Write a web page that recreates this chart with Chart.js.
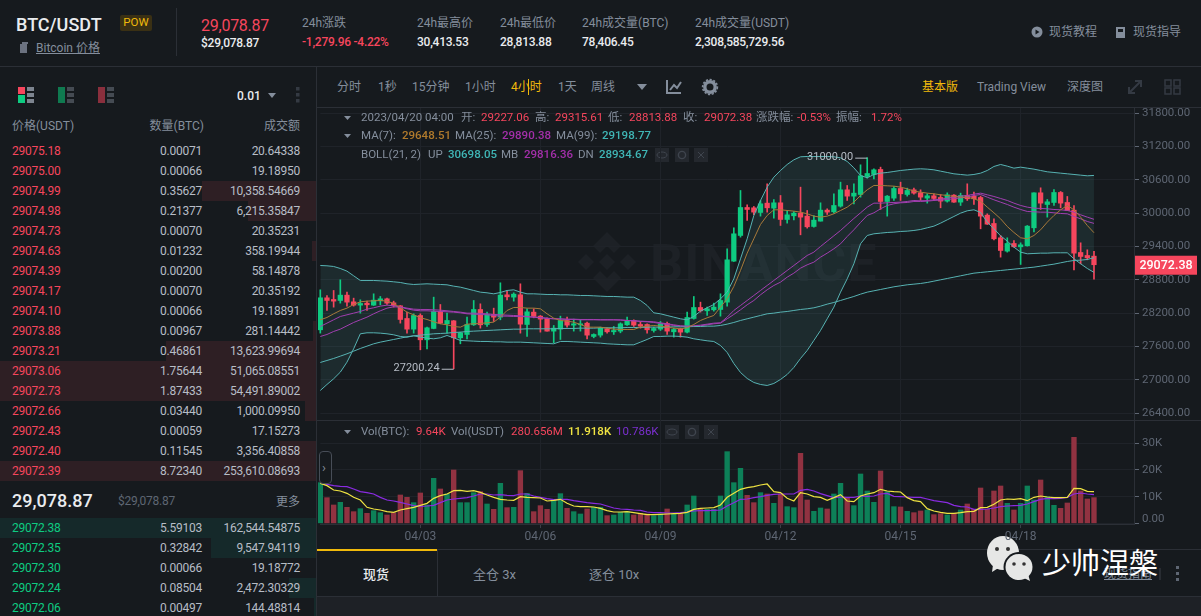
<!DOCTYPE html>
<html>
<head>
<meta charset="utf-8">
<script src="https://cdn.jsdelivr.net/npm/chart.js@4/dist/chart.umd.min.js"></script>
<style>
html, body { margin: 0; padding: 0; background: #161a1e; }
body { width: 1201px; height: 616px; overflow: hidden; position: relative; font-family: Roboto, "Noto Sans CJK SC", sans-serif; }
#page > div.t { position: absolute; white-space: nowrap; transform: translateY(-50%); line-height: 1; }
#page > div.r { transform: translate(-100%, -50%); }
.box { position: absolute; }
canvas { position: absolute; display: block; }
svg { position: absolute; overflow: visible; }
</style>
</head>
<body>
<div id="page"></div>
<canvas id="priceChart" width="883" height="312" style="left:318px;top:108px"></canvas>
<canvas id="volChart" width="883" height="120" style="left:318px;top:420px"></canvas>
<script>
// 4h candles, 03/31 20:00 to 04/20 04:00
const categories = [
  "03/31 20:00",
  "04/01 00:00", "04/01 04:00", "04/01 08:00", "04/01 12:00", "04/01 16:00", "04/01 20:00",
  "04/02 00:00", "04/02 04:00", "04/02 08:00", "04/02 12:00", "04/02 16:00", "04/02 20:00",
  "04/03 00:00", "04/03 04:00", "04/03 08:00", "04/03 12:00", "04/03 16:00", "04/03 20:00",
  "04/04 00:00", "04/04 04:00", "04/04 08:00", "04/04 12:00", "04/04 16:00", "04/04 20:00",
  "04/05 00:00", "04/05 04:00", "04/05 08:00", "04/05 12:00", "04/05 16:00", "04/05 20:00",
  "04/06 00:00", "04/06 04:00", "04/06 08:00", "04/06 12:00", "04/06 16:00", "04/06 20:00",
  "04/07 00:00", "04/07 04:00", "04/07 08:00", "04/07 12:00", "04/07 16:00", "04/07 20:00",
  "04/08 00:00", "04/08 04:00", "04/08 08:00", "04/08 12:00", "04/08 16:00", "04/08 20:00",
  "04/09 00:00", "04/09 04:00", "04/09 08:00", "04/09 12:00", "04/09 16:00", "04/09 20:00",
  "04/10 00:00", "04/10 04:00", "04/10 08:00", "04/10 12:00", "04/10 16:00", "04/10 20:00",
  "04/11 00:00", "04/11 04:00", "04/11 08:00", "04/11 12:00", "04/11 16:00", "04/11 20:00",
  "04/12 00:00", "04/12 04:00", "04/12 08:00", "04/12 12:00", "04/12 16:00", "04/12 20:00",
  "04/13 00:00", "04/13 04:00", "04/13 08:00", "04/13 12:00", "04/13 16:00", "04/13 20:00",
  "04/14 00:00", "04/14 04:00", "04/14 08:00", "04/14 12:00", "04/14 16:00", "04/14 20:00",
  "04/15 00:00", "04/15 04:00", "04/15 08:00", "04/15 12:00", "04/15 16:00", "04/15 20:00",
  "04/16 00:00", "04/16 04:00", "04/16 08:00", "04/16 12:00", "04/16 16:00", "04/16 20:00",
  "04/17 00:00", "04/17 04:00", "04/17 08:00", "04/17 12:00", "04/17 16:00", "04/17 20:00",
  "04/18 00:00", "04/18 04:00", "04/18 08:00", "04/18 12:00", "04/18 16:00", "04/18 20:00",
  "04/19 00:00", "04/19 04:00", "04/19 08:00", "04/19 12:00", "04/19 16:00", "04/19 20:00",
  "04/20 00:00", "04/20 04:00"
];
const emptySlots = ["", "", "", "", "", ""];   // room right of the last candle
const xTickLabels = ["04/03", "04/06", "04/09", "04/12", "04/15", "04/18"];
const priceTicks = [31800, 31200, 30600, 30000, 29400, 28800, 28200, 27600, 27000, 26400];
const volTicks = [0, 10, 20, 30];

const opens = [
  27901, 28477, 28447, 28429, 28525, 28405, 28345, 28381, 28345, 28423,
  28459, 28387, 28333, 28105, 27913, 28159, 27721, 27925, 28231, 28009,
  28063, 27757, 27817, 27991, 28267, 27997, 28177, 28129, 28531, 28489,
  28531, 27997, 28219, 28147, 28105, 27877, 27913, 28069, 27985, 27991,
  28021, 27781, 27805, 27919, 27865, 27877, 27991, 28069, 27997, 27997,
  27889, 27913, 28015, 27865, 27919, 27859, 28105, 28303, 28243, 28261,
  28267, 28399, 29137, 29599, 30103, 30097, 30013, 30181, 30091, 30187,
  29887, 29953, 30001, 29947, 29761, 29857, 30055, 30025, 30127, 30421,
  30307, 30337, 30661, 30697, 30787, 30211, 30271, 30445, 30337, 30421,
  30367, 30271, 30313, 30283, 30217, 30325, 30199, 30319, 30307, 30283,
  29965, 29815, 29557, 29317, 29455, 29395, 29413, 29737, 30367, 30157,
  30193, 30373, 30193, 30055, 29293, 29239, 29227.06
];
const highs = [
  28621, 28519, 28609, 28801, 28579, 28471, 28441, 28417, 28549, 28501,
  28471, 28417, 28339, 28219, 28189, 28189, 27949, 28489, 28357, 28201,
  28069, 27859, 28129, 28429, 28369, 28219, 28291, 28747, 28609, 28567,
  28729, 28279, 28279, 28159, 28117, 27979, 28147, 28129, 28093, 28087,
  28039, 27829, 27949, 27937, 27961, 28027, 28129, 28081, 28045, 28009,
  27949, 28051, 28039, 27931, 27931, 28219, 28501, 28399, 28309, 28381,
  28549, 29359, 29737, 30409, 30151, 30121, 30229, 30529, 30247, 30319,
  30049, 30031, 30469, 30049, 29959, 30187, 30079, 30349, 30559, 30499,
  30529, 30871, 31000, 30799, 30829, 30319, 30481, 30559, 30451, 30451,
  30421, 30349, 30349, 30337, 30367, 30337, 30361, 30529, 30379, 30307,
  29989, 29899, 29599, 29557, 29509, 29467, 29779, 30367, 30457, 30247,
  30427, 30391, 30301, 30139, 29467, 29341, 29315.61
];
const lows = [
  27841, 28249, 28309, 28381, 28327, 28327, 28201, 28249, 28339, 28351,
  28357, 28309, 28021, 27841, 27841, 27541, 27559, 27919, 28009, 27841,
  27200.24, 27649, 27739, 27979, 27931, 27961, 28051, 28081, 28441, 28417,
  27841, 27781, 28117, 27859, 27877, 27667, 27727, 27949, 27877, 27877,
  27739, 27757, 27769, 27841, 27817, 27847, 27979, 27961, 27931, 27841,
  27859, 27889, 27817, 27769, 27769, 27847, 28093, 28219, 28159, 28237,
  28147, 28327, 29131, 29569, 29869, 29971, 29947, 30019, 29911, 29779,
  29821, 29881, 29611, 29731, 29749, 29857, 29977, 30001, 30109, 30229,
  30169, 30289, 30631, 30619, 30067, 29947, 30229, 30229, 30307, 30343,
  30229, 30181, 30229, 30097, 30199, 30193, 30139, 30229, 30157, 29719,
  29797, 29521, 29209, 29299, 29389, 29077, 29407, 29665, 30067, 29929,
  30139, 30097, 30049, 28981, 29089, 29161, 28813.88
];
const closes = [
  28477, 28429, 28417, 28525, 28399, 28345, 28375, 28351, 28435, 28459,
  28381, 28339, 28087, 27913, 28159, 27721, 27937, 28231, 28021, 28069,
  27757, 27847, 27997, 28267, 27991, 28177, 28129, 28525, 28495, 28543,
  28003, 28225, 28141, 28093, 27877, 27931, 28069, 27985, 28009, 28009,
  27805, 27817, 27931, 27865, 27889, 28009, 28069, 27985, 27967, 27901,
  27925, 28009, 27877, 27907, 27859, 28123, 28303, 28243, 28279, 28309,
  28429, 29161, 29629, 30103, 30067, 30019, 30169, 30097, 30187, 29887,
  29971, 30001, 29929, 29755, 29875, 30055, 30019, 30139, 30421, 30307,
  30361, 30673, 30715, 30781, 30211, 30307, 30445, 30349, 30409, 30361,
  30289, 30313, 30265, 30217, 30331, 30199, 30319, 30259, 30259, 29947,
  29803, 29539, 29329, 29455, 29395, 29431, 29767, 30367, 30181, 30205,
  30373, 30181, 30049, 29281, 29221, 29197, 29072.38
];
const ma7 = [
  28081, 28123, 28189, 28249, 28291, 28357, 28405, 28417, 28423, 28429,
  28417, 28375, 28297, 28219, 28171, 28117, 28087, 28045, 28009, 27991,
  27961, 27949, 28003, 28009, 28015, 28027, 28039, 28129, 28249, 28303,
  28303, 28291, 28291, 28279, 28189, 28111, 28069, 28057, 28039, 27997,
  27949, 27949, 27949, 27931, 27913, 27907, 27907, 27907, 27949, 27967,
  27979, 27967, 27949, 27931, 27919, 27937, 27997, 28069, 28117, 28159,
  28309, 28459, 28681, 28969, 29281, 29539, 29797, 29959, 30061, 30061,
  30049, 30037, 30019, 29989, 29947, 29929, 29947, 29989, 30049, 30109,
  30199, 30319, 30421, 30499, 30499, 30493, 30487, 30469, 30439, 30397,
  30379, 30361, 30349, 30331, 30319, 30301, 30289, 30289, 30259, 30217,
  30109, 30007, 29899, 29761, 29653, 29557, 29539, 29599, 29701, 29839,
  29959, 30061, 30139, 30061, 29929, 29779, 29648.51
];
const ma25 = [
  27961, 28021, 28081, 28141, 28171, 28201, 28231, 28273, 28297, 28327,
  28345, 28333, 28315, 28291, 28273, 28267, 28267, 28261, 28255, 28243,
  28231, 28219, 28201, 28201, 28195, 28189, 28177, 28171, 28165, 28159,
  28153, 28141, 28129, 28123, 28111, 28099, 28099, 28093, 28093, 28087,
  28087, 28087, 28081, 28081, 28081, 28081, 28069, 28063, 28057, 28051,
  28045, 28027, 28009, 27991, 27973, 27967, 27973, 27985, 28003, 28021,
  28027, 28129, 28249, 28339, 28429, 28519, 28609, 28699, 28789, 28879,
  28969, 29059, 29149, 29239, 29299, 29401, 29497, 29593, 29689, 29797,
  29905, 30007, 30109, 30181, 30181, 30187, 30193, 30199, 30211, 30229,
  30223, 30229, 30241, 30253, 30271, 30289, 30307, 30319, 30343, 30361,
  30331, 30301, 30265, 30229, 30181, 30139, 30109, 30091, 30085, 30079,
  30067, 30061, 30049, 30019, 29971, 29929, 29890.38
];
const ma99 = [
  27313, 27349, 27385, 27427, 27469, 27517, 27565, 27607, 27649, 27679,
  27703, 27727, 27751, 27775, 27793, 27805, 27817, 27829, 27835, 27841,
  27853, 27859, 27871, 27877, 27883, 27889, 27895, 27901, 27907, 27913,
  27913, 27919, 27919, 27919, 27919, 27919, 27925, 27925, 27925, 27931,
  27931, 27931, 27937, 27937, 27937, 27937, 27943, 27943, 27943, 27949,
  27949, 27949, 27949, 27955, 27955, 27955, 27961, 27961, 27967, 27967,
  27979, 28003, 28033, 28069, 28099, 28129, 28159, 28189, 28201, 28219,
  28231, 28249, 28267, 28279, 28297, 28327, 28363, 28393, 28429, 28465,
  28501, 28543, 28579, 28603, 28627, 28651, 28675, 28693, 28711, 28723,
  28735, 28753, 28777, 28801, 28825, 28849, 28873, 28897, 28921, 28933,
  28945, 28957, 28969, 28981, 28993, 29005, 29017, 29029, 29047, 29065,
  29083, 29107, 29131, 29149, 29155, 29167, 29198.77
];
const bollUp = [
  29059, 29053, 29041, 29005, 28957, 28873, 28789, 28789, 28789, 28783,
  28777, 28765, 28753, 28729, 28717, 28723, 28729, 28723, 28717, 28711,
  28687, 28669, 28639, 28609, 28579, 28567, 28549, 28573, 28609, 28621,
  28579, 28549, 28549, 28543, 28537, 28537, 28531, 28531, 28525, 28519,
  28519, 28513, 28507, 28501, 28501, 28495, 28489, 28489, 28429, 28339,
  28207, 28189, 28159, 28129, 28099, 28081, 28141, 28237, 28297, 28357,
  28459, 28579, 28819, 29179, 29539, 29959, 30229, 30469, 30649, 30769,
  30877, 30961, 31015, 31021, 31021, 31021, 31021, 31015, 30997, 30931,
  30817, 30679, 30637, 30697, 30721, 30733, 30751, 30769, 30781, 30793,
  30799, 30793, 30781, 30757, 30733, 30709, 30697, 30685, 30697, 30721,
  30769, 30841, 30877, 30847, 30811, 30829, 30811, 30793, 30769, 30745,
  30733, 30721, 30709, 30697, 30685, 30673, 30680
];
const bollMb = [
  27781, 27817, 27871, 27913, 27973, 28033, 28081, 28129, 28189, 28243,
  28291, 28315, 28309, 28279, 28255, 28243, 28243, 28237, 28231, 28225,
  28219, 28207, 28189, 28183, 28177, 28171, 28159, 28147, 28147, 28141,
  28141, 28135, 28129, 28117, 28105, 28099, 28093, 28087, 28087, 28081,
  28081, 28081, 28081, 28081, 28081, 28075, 28069, 28063, 28051, 28045,
  28033, 28015, 27997, 27979, 27967, 27961, 27967, 27973, 27991, 28009,
  28021, 28099, 28177, 28261, 28351, 28429, 28531, 28621, 28699, 28759,
  28849, 28921, 29011, 29071, 29119, 29209, 29281, 29359, 29449, 29581,
  29701, 29833, 29959, 30007, 30079, 30139, 30169, 30187, 30193, 30211,
  30211, 30217, 30229, 30235, 30247, 30259, 30277, 30289, 30319, 30337,
  30289, 30241, 30199, 30157, 30109, 30067, 30031, 30025, 30019, 30019,
  30007, 29995, 29989, 29941, 29899, 29851, 29816.36
];
const bollDn = [
  26809, 26917, 27019, 27139, 27319, 27559, 27829, 27847, 27847, 27841,
  27829, 27811, 27781, 27769, 27793, 27769, 27751, 27739, 27757, 27799,
  27757, 27709, 27703, 27697, 27691, 27691, 27685, 27685, 27679, 27679,
  27679, 27673, 27667, 27661, 27655, 27649, 27691, 27691, 27685, 27679,
  27673, 27667, 27661, 27649, 27643, 27637, 27631, 27631, 27679, 27727,
  27781, 27781, 27787, 27787, 27781, 27769, 27739, 27721, 27703, 27691,
  27619, 27493, 27295, 27133, 27025, 26953, 26917, 26899, 26935, 27007,
  27097, 27223, 27385, 27529, 27709, 27889, 28099, 28309, 28579, 28819,
  29089, 29449, 29599, 29629, 29641, 29653, 29659, 29671, 29677, 29689,
  29707, 29737, 29767, 29821, 29881, 29941, 30001, 30043, 30061, 30013,
  29839, 29719, 29593, 29497, 29389, 29299, 29269, 29275, 29281, 29281,
  29287, 29287, 29287, 29179, 29089, 29005, 28934.67
];
// volume in thousands of BTC
const volumes = [
  15.25, 9.63, 6.88, 7.88, 6.0, 4.38, 5.5, 3.75, 4.75, 4.0,
  3.13, 4.0, 10.63, 9.75, 7.75, 11.38, 6.88, 16.88, 12.88, 11.0,
  20.0, 7.75, 7.75, 11.5, 11.88, 7.25, 5.25, 15.0, 5.88, 6.0,
  19.75, 11.25, 4.38, 6.63, 5.25, 8.75, 11.13, 5.63, 4.38, 3.5,
  5.38, 6.0, 6.0, 2.88, 3.13, 4.13, 4.38, 3.13, 3.75, 3.5,
  2.88, 3.5, 5.38, 3.5, 3.5, 6.88, 10.25, 5.25, 5.25, 5.25,
  10.25, 26.88, 15.25, 20.63, 10.5, 7.75, 11.5, 11.0, 7.5, 11.0,
  6.25, 5.88, 26.25, 8.75, 4.5, 5.75, 5.38, 11.0, 15.0, 9.75,
  6.63, 18.5, 12.13, 7.88, 19.63, 11.88, 6.25, 6.13, 4.5, 4.0,
  4.63, 5.0, 3.25, 3.63, 3.13, 3.75, 5.0, 7.25, 5.25, 13.25,
  5.25, 12.13, 14.0, 7.5, 5.0, 7.5, 14.0, 8.75, 16.25, 10.0,
  6.75, 5.63, 7.63, 32.25, 12.13, 9.13, 9.64
];
const volMa5 = [
  15.0, 14.13, 12.5, 12.13, 11.25, 9.75, 8.75, 6.0, 5.38, 5.0,
  4.38, 4.13, 5.0, 5.5, 6.0, 6.75, 7.5, 9.38, 10.38, 11.0,
  12.25, 12.38, 12.0, 12.25, 11.63, 10.63, 9.75, 9.0, 8.75, 8.63,
  10.0, 9.75, 9.63, 9.5, 8.38, 8.63, 9.0, 7.5, 6.5, 6.25,
  6.25, 6.13, 5.63, 4.75, 4.25, 4.25, 4.38, 4.0, 3.63, 3.25,
  3.25, 3.38, 3.5, 3.63, 3.75, 4.13, 5.25, 5.63, 5.75, 5.88,
  6.88, 9.75, 11.25, 12.75, 13.38, 13.75, 14.38, 14.75, 11.88, 11.5,
  9.38, 8.38, 11.5, 11.0, 10.0, 9.75, 8.63, 9.63, 10.75, 8.38,
  8.13, 10.25, 11.0, 11.5, 12.75, 12.13, 11.88, 11.75, 9.63, 8.5,
  8.13, 5.5, 4.63, 4.13, 3.75, 3.75, 4.0, 4.38, 4.5, 5.88,
  6.0, 7.13, 8.75, 9.13, 9.0, 9.25, 8.5, 9.75, 10.25, 9.88,
  9.63, 9.63, 9.75, 13.13, 13.0, 12.0, 11.92
];
const volMa10 = [
  15.25, 14.63, 14.13, 13.88, 13.75, 12.88, 11.88, 11.5, 11.0, 9.75,
  8.75, 8.38, 7.88, 7.25, 6.63, 6.38, 6.5, 6.75, 7.75, 8.75,
  9.13, 9.38, 9.63, 10.25, 11.0, 11.0, 10.63, 10.75, 10.5, 10.38,
  11.0, 11.0, 10.25, 9.75, 9.25, 8.88, 9.0, 9.0, 8.5, 8.13,
  7.75, 7.5, 7.25, 6.5, 5.75, 5.38, 5.25, 5.0, 4.88, 4.25,
  4.0, 4.0, 3.88, 3.88, 4.0, 4.25, 4.63, 4.75, 4.75, 4.88,
  5.0, 6.5, 7.75, 9.0, 9.13, 9.63, 10.0, 10.5, 10.88, 11.0,
  11.0, 11.0, 12.38, 12.75, 12.13, 11.13, 10.38, 9.63, 9.88, 9.75,
  9.75, 10.25, 10.13, 10.25, 11.0, 11.25, 10.13, 10.0, 9.88, 9.75,
  9.75, 9.13, 8.5, 8.13, 7.75, 6.75, 6.25, 6.13, 5.25, 5.25,
  5.38, 5.75, 6.25, 6.5, 6.63, 6.75, 7.25, 8.13, 9.0, 9.38,
  9.25, 9.38, 9.75, 11.0, 11.38, 11.0, 10.79
];

// order book
const askPrices = ["29075.18","29075.00","29074.99","29074.98","29074.73","29074.63","29074.39","29074.17","29074.10","29073.88","29073.21","29073.06","29072.73","29072.66","29072.43","29072.40","29072.39"];
const askAmounts = ["0.00071","0.00066","0.35627","0.21377","0.00070","0.01232","0.00200","0.00070","0.00066","0.00967","0.46861","1.75644","1.87433","0.03440","0.00059","0.11545","8.72340"];
const askTotals = ["20.64338","19.18950","10,358.54669","6,215.35847","20.35231","358.19944","58.14878","20.35192","19.18891","281.14442","13,623.99694","51,065.08551","54,491.89002","1,000.09950","17.15273","3,356.40858","253,610.08693"];
const askDepth = [0,0,114,68,0,4,0,0,0,3,150,316,316,11,0,37,316];
const bidPrices = ["29072.38","29072.35","29072.30","29072.24","29072.06"];
const bidAmounts = ["5.59103","0.32842","0.00066","0.08504","0.00497"];
const bidTotals = ["162,544.54875","9,547.94119","19.18772","2,472.30329","144.48814"];
const bidDepth = [316,105,0,27,2];

const UP = "#0ecb81", DOWN = "#f6465d", GREY = "#848e9c", DIM = "#5e6673", LINE = "#2b2f36", GRID = "#1f2329";
const NUM = "letter-spacing:-0.25px;";
const page = document.getElementById("page");

function put(x, y, str, color, size, extra, right) {
  const d = document.createElement("div");
  d.className = right ? "t r" : "t";
  d.style.cssText = "left:" + x + "px;top:" + y + "px;color:" + color + ";font-size:" + size + "px;" + (extra || "");
  d.innerHTML = str;
  page.appendChild(d);
  return d;
}
function box(x, y, w, h, color, extra) {
  const d = document.createElement("div");
  d.className = "box";
  d.style.cssText = "left:" + x + "px;top:" + y + "px;width:" + w + "px;height:" + h + "px;background:" + color + ";" + (extra || "");
  page.appendChild(d);
  return d;
}
function icon(inner) {
  const s = document.createElement("div");
  s.innerHTML = '<svg width="1201" height="616" style="left:0;top:0">' + inner + "</svg>";
  page.appendChild(s);
}

// frame
box(0, 66, 1201, 1, LINE);
box(316, 66, 1, 550, LINE);
box(317, 107, 884, 1, LINE);
box(317, 420, 884, 1, LINE);
box(317, 596, 884, 20, "#1e2126");
box(317, 596, 884, 1, LINE);
box(317, 549, 884, 1, LINE);
box(176, 8, 1, 48, LINE);

// header
put(16, 25, "BTC/USDT", "#eaecef", 18, "font-weight:500");
box(120, 15, 32, 16, "#3a3014", "border-radius:2px");
put(136, 23, "POW", "#f0b90b", 11.5, "transform:translate(-50%,-50%)");
put(36, 47.5, "Bitcoin 价格", GREY, 12, "text-decoration:underline");
icon('<rect x="20" y="44" width="7" height="9" fill="#6b7280"/><rect x="22" y="42" width="6" height="2" fill="#6b7280"/>');
put(201, 26, "29,078.87", DOWN, 16, NUM);
put(201, 43, "$29,078.87", "#eaecef", 12, "font-weight:500;" + NUM);
put(302, 23, "24h涨跌", GREY, 12);
put(302, 42, "-1,279.96 -4.22%", DOWN, 12, "font-weight:500;" + NUM);
put(417, 23, "24h最高价", GREY, 12);
put(417, 42, "30,413.53", "#eaecef", 12, "font-weight:500;" + NUM);
put(500, 23, "24h最低价", GREY, 12);
put(500, 42, "28,813.88", "#eaecef", 12, "font-weight:500;" + NUM);
put(582, 23, "24h成交量(BTC)", GREY, 12);
put(582, 42, "78,406.45", "#eaecef", 12, "font-weight:500;" + NUM);
put(695, 23, "24h成交量(USDT)", GREY, 12);
put(695, 42, "2,308,585,729.56", "#eaecef", 12, "font-weight:500;" + NUM);
icon('<circle cx="1037" cy="32" r="5.5" fill="#848e9c"/><path d="M1035.5 29.5 L1039.5 32 L1035.5 34.5 Z" fill="#161a1e"/>' +
  '<rect x="1116" y="27" width="9" height="11" fill="#848e9c"/><rect x="1118" y="29" width="5" height="3" fill="#161a1e"/>');
put(1049, 32, "现货教程", GREY, 12);
put(1133, 32, "现货指导", GREY, 12);

// toolbar
[[337, "分时"], [378, "1秒"], [412, "15分钟"], [465, "1小时"], [558, "1天"], [591, "周线"]].forEach(function (b) {
  put(b[0], 87, b[1], GREY, 12);
});
put(511, 87, "4小时", "#f0b90b", 12);
box(528, 79, 1, 16, "#f0b90b");
put(922, 87, "基本版", "#f0b90b", 12);
put(977, 87, "Trading View", GREY, 12);
put(1067, 87, "深度图", GREY, 12);
icon('<path d="M637 84 L647 84 L642 90 Z" fill="#848e9c"/>' +
  '<path d="M667 80 V93 H681 M670 90 L674 85 L677 88 L681 82" stroke="#848e9c" stroke-width="2" fill="none"/>' +
  '<circle cx="710" cy="87" r="5.2" fill="none" stroke="#848e9c" stroke-width="3.4"/><circle cx="710" cy="87" r="7.4" fill="none" stroke="#848e9c" stroke-width="1.6" stroke-dasharray="2.2 1.6"/>' +
  '<path d="M1129 93 L1141 81 M1135 81 H1141 V87 M1129 87 V93 H1135" stroke="#343a43" stroke-width="2" fill="none"/>' +
  '<rect x="1165" y="80" width="6" height="6" fill="none" stroke="#343a43" stroke-width="1.5"/><rect x="1174" y="80" width="6" height="6" fill="none" stroke="#343a43" stroke-width="1.5"/>' +
  '<rect x="1165" y="88" width="6" height="6" fill="none" stroke="#343a43" stroke-width="1.5"/><rect x="1174" y="88" width="6" height="6" fill="none" stroke="#343a43" stroke-width="1.5"/>');

// order book panel
box(18, 87, 7, 7, "#f6465d"); box(18, 95, 7, 8, "#0ecb81");
box(58, 87, 7, 16, "#0f7a50"); box(98, 87, 7, 16, "#8a2f3d");
[[27, "#7d8590"], [67, "#454b53"], [107, "#454b53"]].forEach(function (g) {
  box(g[0], 87, 7, 4, g[1]); box(g[0], 93, 7, 4, g[1]); box(g[0], 99, 7, 4, g[1]);
});
put(237, 96, "0.01", "#eaecef", 12, "font-weight:500");
icon('<path d="M268 93 L276 93 L272 98 Z" fill="#848e9c"/>' +
  '<rect x="296" y="87" width="3.5" height="3.5" fill="#343a43"/><rect x="296" y="93" width="3.5" height="3.5" fill="#343a43"/><rect x="296" y="99" width="3.5" height="3.5" fill="#343a43"/>');
put(12, 126, "价格(USDT)", GREY, 12);
put(204, 126, "数量(BTC)", GREY, 12, "", true);
put(300, 126, "成交额", GREY, 12, "", true);
askPrices.forEach(function (p, i) {
  const y = 151 + i * 20;
  if (askDepth[i]) box(316 - askDepth[i], y - 10, askDepth[i], 20, "#2e1f24");
  put(12, y, p, DOWN, 12, NUM);
  put(202, y, askAmounts[i], "#b7bdc6", 12, NUM, true);
  put(300, y, askTotals[i], "#b7bdc6", 12, NUM, true);
});
put(12, 501, "29,078.87", "#eaecef", 18, "font-weight:500");
put(118, 501, "$29,078.87", DIM, 12, NUM);
put(300, 502, "更多", GREY, 12, "", true);
bidPrices.forEach(function (p, i) {
  const y = 528 + i * 20;
  if (bidDepth[i]) box(316 - bidDepth[i], y - 10, bidDepth[i], 20, "#15292a");
  put(12, y, p, UP, 12, NUM);
  put(202, y, bidAmounts[i], "#b7bdc6", 12, NUM, true);
  put(300, y, bidTotals[i], "#b7bdc6", 12, NUM, true);
});

// watermark under the chart
icon('<g fill="#1d2126" transform="translate(607 262)">' +
  '<path d="M0 -30 L14 -16 L7 -9 L0 -16 L-7 -9 L-14 -16 Z"/><path d="M0 30 L14 16 L7 9 L0 16 L-7 9 L-14 16 Z"/>' +
  '<path d="M-29 0 L-21 -8 L-13 0 L-21 8 Z"/><path d="M29 0 L21 -8 L13 0 L21 8 Z"/><path d="M0 -8 L8 0 L0 8 L-8 0 Z"/></g>');
put(650, 264, "BINANCE", "#1d2126", 52, "font-weight:700;letter-spacing:1px");

// chart legends, kept above the canvas grid lines
function leg(y, parts) {
  parts.forEach(function (p) {
    put(p[0], y, p[1], p[2], 11.5, "z-index:3;" + (p[3] ? "font-weight:500" : ""));
  });
}
icon('<path d="M344 116 L351 116 L347.5 120 Z" fill="#848e9c"/><path d="M344 134 L351 134 L347.5 138 Z" fill="#848e9c"/><path d="M344 430 L351 430 L347.5 434 Z" fill="#848e9c"/>');
leg(118, [[361, "2023/04/20 04:00", GREY], [461, "开:", GREY], [481, "29227.06", DOWN], [535, "高:", GREY], [555, "29315.61", DOWN], [608, "低:", GREY], [629, "28813.88", DOWN], [683, "收:", GREY], [704, "29072.38", DOWN], [756, "涨跌幅:", GREY], [797, "-0.53%", DOWN], [836, "振幅:", GREY], [871, "1.72%", DOWN]]);
leg(136, [[361, "MA(7):", GREY], [402, "29648.51", "#b07a2c", 1], [455, "MA(25):", GREY], [502, "29890.38", "#a32fa9", 1], [556, "MA(99):", GREY], [602, "29198.77", "#3fb5b5", 1]]);
leg(155, [[361, "BOLL(21, 2)", GREY], [428, "UP", GREY], [448, "30698.05", "#3fb5b5", 1], [501, "MB", GREY], [524, "29816.36", "#a32fa9", 1], [578, "DN", GREY], [599, "28934.67", "#3fb5b5", 1]]);
leg(432, [[361, "Vol(BTC):", GREY], [416, "9.64K", DOWN], [451, "Vol(USDT)", GREY], [511, "280.656M", DOWN], [568, "11.918K", "#f0e442", 1], [616, "10.786K", "#7b2fd0"]]);
// eye, gear, close buttons beside the two indicator legends
[[655, 148], [675, 148], [694, 148], [665, 425], [685, 425], [704, 425]].forEach(function (b) {
  box(b[0], b[1], 14, 14, "#24282e");
});
function tools(y, xs) {
  icon('<ellipse cx="' + (xs[0] + 7) + '" cy="' + (y + 7) + '" rx="5" ry="3" fill="none" stroke="#3f454e"/>' +
    '<circle cx="' + (xs[1] + 7) + '" cy="' + (y + 7) + '" r="3.6" fill="none" stroke="#3f454e" stroke-width="1.4"/>' +
    '<path d="M' + (xs[2] + 4) + ' ' + (y + 4) + ' l6 6 m0 -6 l-6 6" stroke="#3f454e"/>');
}
tools(148, [655, 675, 694]);
tools(425, [665, 685, 704]);
box(319, 451, 11, 31, "#161a1e", "border:1px solid #474d57;border-radius:4px;z-index:3");
put(322, 467, "›", GREY, 13, "z-index:3");

// bottom tabs
box(317, 549, 120, 47, "#161a1e");
box(317, 549, 120, 2, "#f0b90b");
box(437, 550, 1, 46, LINE);
put(363, 574, "现货", "#eaecef", 13, "font-weight:500");
put(473, 574, "全仓 3x", GREY, 13);
put(589, 574, "逐仓 10x", GREY, 13);
put(1104, 574, "现货指南", GREY, 12, "text-decoration:underline");
icon('<rect x="1176" y="566" width="3" height="3" fill="#5e6673"/><rect x="1176" y="572" width="3" height="3" fill="#5e6673"/><rect x="1176" y="578" width="3" height="3" fill="#5e6673"/>' +
  '<path d="M1160 568 V580" stroke="#3a3f47"/>' +
  '<ellipse cx="1003" cy="553" rx="16" ry="17" fill="#e6e7e6"/><path d="M993 565 L992 572 L1000 567 Z" fill="#e6e7e6"/>' +
  '<circle cx="997" cy="549" r="2" fill="#333"/><circle cx="1008" cy="549" r="2" fill="#333"/>' +
  '<ellipse cx="1019" cy="567" rx="15.5" ry="15" fill="#161a1e"/><ellipse cx="1019" cy="567" rx="13.5" ry="13" fill="#e6e7e6"/><path d="M1024 578 L1030 581 L1028 574 Z" fill="#e6e7e6"/>' +
  '<circle cx="1014" cy="564" r="1.8" fill="#333"/><circle cx="1024" cy="564" r="1.8" fill="#333"/>');
put(1042, 564, "少帅涅槃", "#ffffff", 29);

// both charts share this x axis layout
function xAxis(showLabels) {
  const tickValues = xTickLabels.map(function (l) { return categories.indexOf(l + " 08:00"); });
  return {
    type: "category",
    offset: false,
    afterBuildTicks: function (s) { s.ticks = tickValues.map(function (v) { return { value: v }; }); },
    afterFit: function (s) { s.height = showLabels ? 16 : 0; s.paddingLeft = 0; s.paddingRight = 0; },
    grid: { color: GRID, offset: false, drawTicks: showLabels, tickColor: "#3a3f47", tickLength: 4 },
    border: { display: showLabels, color: "#2b2f36" },
    ticks: {
      display: showLabels, color: DIM, padding: 2, maxRotation: 0, autoSkip: false,
      font: { family: "Roboto", size: 12 },
      callback: function (v) { return this.getLabelForValue(v).slice(0, 5); }
    }
  };
}
function yAxis(min, max, values, callback, fontExtra) {
  return {
    position: "right",
    min: min,
    max: max,
    afterBuildTicks: function (s) { s.ticks = values.map(function (v) { return { value: v }; }); },
    afterFit: function (s) { s.width = 67; s.paddingTop = 0; s.paddingBottom = 0; },
    grid: { color: GRID, tickColor: "#5e6673", tickLength: 5 },
    border: { color: "#2b2f36" },
    ticks: { color: DIM, padding: 3, font: Object.assign({ family: "Roboto", size: 11.5 }, fontExtra || {}), callback: callback }
  };
}
function lineSet(data, color, width, extra) {
  return Object.assign({ type: "line", data: data, borderColor: color, borderWidth: width, pointRadius: 0, tension: 0, order: 0, clip: false, fill: false }, extra || {});
}
const isUp = function (i) { return closes[i] >= opens[i]; };

// price labels that sit on the series
const pricePins = {
  id: "pricePins",
  afterDraw: function (chart) {
    const c = chart.ctx, xs = chart.scales.x, ys = chart.scales.y;
    function pin(idx, val, text) {
      const x = xs.getPixelForValue(idx), y = ys.getPixelForValue(val);
      c.save();
      c.strokeStyle = "#b7bdc6"; c.lineWidth = 1;
      c.beginPath(); c.moveTo(x - 12, y + 0.5); c.lineTo(x, y + 0.5); c.stroke();
      c.fillStyle = "#b7bdc6"; c.font = "11px Roboto"; c.textAlign = "right"; c.textBaseline = "middle";
      c.fillText(text, x - 14, y);
      c.restore();
    }
    const hi = highs.indexOf(Math.max.apply(null, highs)), lo = lows.indexOf(Math.min.apply(null, lows));
    pin(hi, highs[hi], highs[hi].toFixed(2));
    pin(lo, lows[lo], lows[lo].toFixed(2));
    // last price tag on the axis
    const last = closes[closes.length - 1], ly = ys.getPixelForValue(last), left = ys.left + 1;
    c.save();
    c.fillStyle = DOWN;
    c.fillRect(left, ly - 9, 62, 19);
    c.fillStyle = "#ffffff"; c.font = "500 12.5px Roboto"; c.textAlign = "center"; c.textBaseline = "middle";
    c.fillText(last.toFixed(2), left + 31, ly + 1);
    c.restore();
  }
};

new Chart(document.getElementById("priceChart"), {
  type: "bar",
  plugins: [pricePins],
  data: {
    labels: categories.concat(emptySlots),
    datasets: [
      {
        data: lows.map(function (l, i) { return [l, highs[i]]; }),
        barThickness: 1, grouped: false, order: 2, clip: false,
        backgroundColor: function (ctx) { return isUp(ctx.dataIndex) ? UP : DOWN; }
      },
      {
        data: opens.map(function (o, i) { return [o, closes[i]]; }),
        barThickness: 4.6, grouped: false, order: 1, clip: false,
        backgroundColor: function (ctx) { return isUp(ctx.dataIndex) ? UP : DOWN; }
      },
      lineSet(ma7, "#a87a3a", 1),
      lineSet(ma25, "#a13fb0", 1),
      lineSet(ma99, "#57b3b3", 1),
      lineSet(bollMb, "#a13fb0", 1),
      lineSet(bollUp, "#57b3b3", 1, { fill: 7, backgroundColor: "rgba(87,179,179,0.11)" }),
      lineSet(bollDn, "#57b3b3", 1)
    ]
  },
  options: {
    responsive: false,
    animation: false,
    events: [],
    layout: { autoPadding: false, padding: { left: 2.3, top: 0, right: 0, bottom: 0 } },
    plugins: { legend: { display: false }, tooltip: { enabled: false }, filler: { drawTime: "beforeDatasetsDraw" } },
    scales: {
      x: xAxis(false),
      y: yAxis(26277.6, 31893.6, priceTicks, function (v) { return v.toFixed(2); })
    }
  }
});

new Chart(document.getElementById("volChart"), {
  type: "bar",
  data: {
    labels: categories.concat(emptySlots),
    datasets: [
      {
        data: volumes, barThickness: 4.7, order: 1, clip: false,
        backgroundColor: function (ctx) { return isUp(ctx.dataIndex) ? "#0d8058" : "#913241"; }
      },
      lineSet(volMa5, "#f0e442", 1.2),
      lineSet(volMa10, "#8a2be2", 1.2)
    ]
  },
  options: {
    responsive: false,
    animation: false,
    events: [],
    layout: { autoPadding: false, padding: { left: 2.3, top: 0, right: 0, bottom: 0 } },
    plugins: { legend: { display: false }, tooltip: { enabled: false } },
    scales: {
      x: xAxis(true),
      y: yAxis(-0.25, 38.75, volTicks, function (v) { return v === 0 ? ["0.00", ""] : v + "K"; }, { lineHeight: "8px" })
    }
  }
});
</script>
</body>
</html>
